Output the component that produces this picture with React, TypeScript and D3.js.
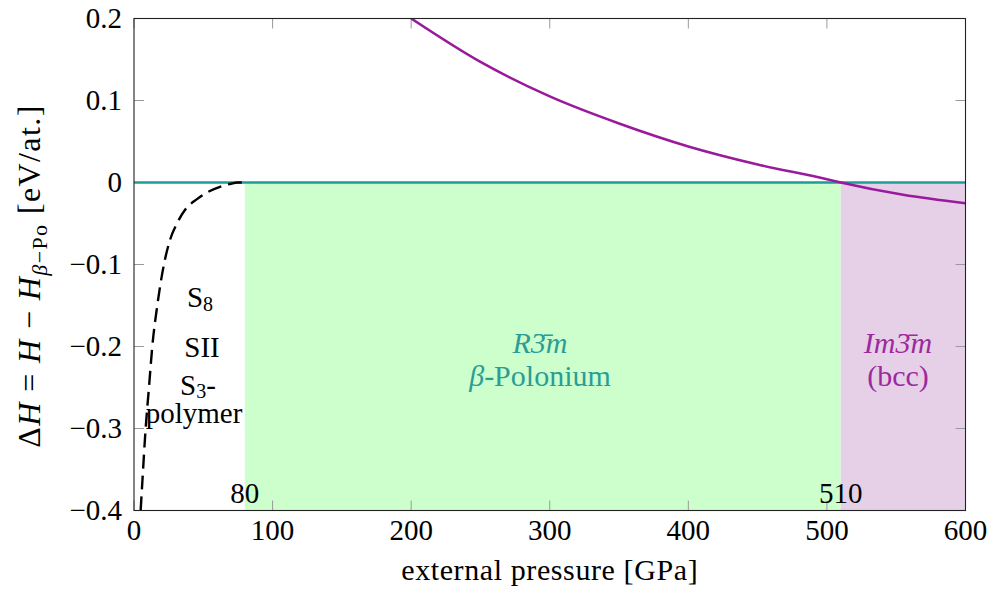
import React from "react";
import * as d3 from "d3";

// ---- data ----
const xTicks = [0, 100, 200, 300, 400, 500, 600];
const yTicks = [-0.4, -0.3, -0.2, -0.1, 0, 0.1, 0.2];
const yTickLabels = ["−0.4", "−0.3", "−0.2", "−0.1", "0", "0.1", "0.2"];

// phase boundaries (GPa)
const rhombStart = 80;
const bccStart = 510;
const boundaryLabels = ["80", "510"];

// S8 / SII / S3-polymer enthalpy (dashed)
const s8Pressure = [4.8, 6.2, 8.4, 10.8, 13.2, 16.8, 21.6, 26, 31, 37, 45.7, 54, 62.5, 70, 74.5, 80];
const s8Enthalpy = [-0.4, -0.36, -0.3, -0.25, -0.2, -0.15, -0.1, -0.07, -0.05, -0.033, -0.02, -0.011, -0.005, -0.0015, 0, 0];

// beta-Po reference (zero line)
const poPressure = [0, 600];
const poEnthalpy = [0, 0];

// bcc Im-3m enthalpy
const bccPressure = [200, 250, 300, 350, 400, 450, 500, 510, 555, 600];
const bccEnthalpy = [0.2, 0.147, 0.105, 0.072, 0.044, 0.022, 0.004, 0, -0.015, -0.0254];

const W = 992;
const H = 593;
const M = { left: 134, right: 965.5, top: 18.5, bottom: 510.5 };

const FONT = '"Liberation Serif", "DejaVu Serif", serif';
const TEAL = "#1e9c98";
const TEAL_TXT = "#2a9d96";
const VIOLET = "#991b9c";
const VIOLET_TXT = "#9c2a9c";

export default function App() {
  const x = d3.scaleLinear().domain([0, 600]).range([M.left, M.right]);
  const y = d3.scaleLinear().domain([-0.4, 0.2]).range([M.bottom, M.top]);

  const line = d3
    .line<[number, number]>()
    .x((d) => x(d[0]))
    .y((d) => y(d[1]))
    .curve(d3.curveMonotoneX);

  const s8Data = s8Pressure.map((p, i) => [p, s8Enthalpy[i]] as [number, number]);
  const poData = poPressure.map((p, i) => [p, poEnthalpy[i]] as [number, number]);
  const bccData = bccPressure.map((p, i) => [p, bccEnthalpy[i]] as [number, number]);

  const tickLen = 10;
  const fs = 29;

  return (
    <svg
      width={W}
      height={H}
      style={{ position: "absolute", left: 0, top: 0, background: "#fff", fontFamily: FONT }}
    >
      <defs>
        <clipPath id="plotclip">
          <rect x={M.left} y={M.top} width={M.right - M.left} height={M.bottom - M.top} />
        </clipPath>
      </defs>

      {/* phase regions */}
      <rect
        x={x(rhombStart)}
        y={y(0)}
        width={x(bccStart) - x(rhombStart)}
        height={y(-0.4) - y(0)}
        fill="#ccffcc"
      />
      <rect
        x={x(bccStart)}
        y={y(0)}
        width={x(600) - x(bccStart)}
        height={y(-0.4) - y(0)}
        fill="#e6d0e8"
      />

      {/* ticks */}
      <g stroke="#9a9a9a" strokeWidth={1}>
        {xTicks.map((t) => (
          <g key={"xt" + t}>
            <line x1={x(t)} x2={x(t)} y1={M.bottom} y2={M.bottom - tickLen} />
            <line x1={x(t)} x2={x(t)} y1={M.top} y2={M.top + tickLen} />
          </g>
        ))}
        {yTicks.map((t) => (
          <g key={"yt" + t}>
            <line x1={M.left} x2={M.left + tickLen} y1={y(t)} y2={y(t)} />
            <line x1={M.right} x2={M.right - tickLen} y1={y(t)} y2={y(t)} />
          </g>
        ))}
      </g>

      {/* curves */}
      <g clipPath="url(#plotclip)" fill="none">
        <path d={line(poData) || ""} stroke={TEAL} strokeWidth={2.6} />
        <path d={line(bccData) || ""} stroke={VIOLET} strokeWidth={2.6} />
        <path d={line(s8Data) || ""} stroke="#000" strokeWidth={2.4} strokeDasharray="14 7" />
      </g>

      {/* frame */}
      <rect
        x={M.left}
        y={M.top}
        width={M.right - M.left}
        height={M.bottom - M.top}
        fill="none"
        stroke="#222"
        strokeWidth={1.1}
      />

      {/* tick labels */}
      <g fontSize={fs} fill="#000">
        {xTicks.map((t) => (
          <text key={"xl" + t} x={x(t)} y={540} textAnchor="middle">
            {t}
          </text>
        ))}
        {yTicks.map((t, i) => (
          <text key={"yl" + t} x={122} y={y(t)} dy="0.33em" textAnchor="end">
            {yTickLabels[i]}
          </text>
        ))}
      </g>

      {/* boundary labels */}
      <g fontSize={fs} fill="#000" textAnchor="middle">
        <text x={x(rhombStart)} y={503}>{boundaryLabels[0]}</text>
        <text x={x(bccStart)} y={503}>{boundaryLabels[1]}</text>
      </g>

      {/* phase labels */}
      <g fontSize={fs} textAnchor="middle" fill="#000">
        <text x={200} y={307}>
          S<tspan fontSize={20} dy={4}>8</tspan>
        </text>
        <text x={202} y={357}>SII</text>
        <text x={198} y={395}>
          S<tspan fontSize={20} dy={3}>3</tspan>
          <tspan dy={-3}>-</tspan>
        </text>
        <text x={194} y={423}>polymer</text>
      </g>
      <g fontSize={fs + 1} textAnchor="middle" fill={TEAL_TXT}>
        <text x={540} y={353} fontStyle="italic">R3̄m</text>
        <text x={540} y={386}>
          <tspan fontStyle="italic">β</tspan>-Polonium
        </text>
      </g>
      <g fontSize={fs + 1} textAnchor="middle" fill={VIOLET_TXT}>
        <text x={898} y={353} fontStyle="italic">Im3̄m</text>
        <text x={898} y={386}>(bcc)</text>
      </g>

      {/* axis titles */}
      <text
        x={(M.left + M.right) / 2}
        y={580}
        textAnchor="middle"
        fontSize={fs + 1}
        letterSpacing={0.6}
        fill="#000"
      >
        external pressure [GPa]
      </text>
      <text
        transform={`translate(40, 276) rotate(-90)`}
        textAnchor="middle"
        fontSize={32}
        letterSpacing={1.4}
        fill="#000"
      >
        Δ<tspan fontStyle="italic">H</tspan> = <tspan fontStyle="italic">H</tspan> − <tspan fontStyle="italic">H</tspan>
        <tspan fontSize={22} dy={7}>
          <tspan fontStyle="italic">β</tspan>−Po
        </tspan>
        <tspan dy={-7}> [eV/at.]</tspan>
      </text>
    </svg>
  );
}
